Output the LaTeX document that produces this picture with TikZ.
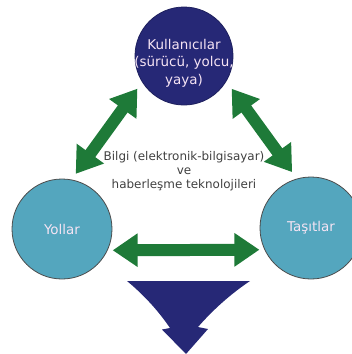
\documentclass[tikz,border=0pt]{standalone}
\usepackage{fontspec}
\setmainfont{DejaVu Sans}
\usetikzlibrary{arrows.meta}
\definecolor{usernavy}{RGB}{38,40,118}
\definecolor{nodeteal}{RGB}{84,166,190}
\definecolor{linkgreen}{RGB}{30,122,56}
\definecolor{circtext}{RGB}{246,228,244}
\tikzset{
  circ/.style={circle, inner sep=0pt, line width=0.8bp},
  link/.style={line width=12bp, linkgreen,
    {Triangle[length=25bp,width=32bp]}-{Triangle[length=25bp,width=32bp]}},
}
\begin{document}
\begin{tikzpicture}[x=1bp, y=-1bp]
      \useasboundingbox (0,0) rectangle (352,354);
      \node (users) [circ, fill=usernavy, draw=usernavy!80!black, minimum size=98bp,
        label={[text=circtext, align=center, font=\fontsize{13.5}{17.5}\selectfont, yshift=-7bp]center:{Kullanıcılar\\(sürücü, yolcu,\\yaya)}}] at (184,56) {};
      \node (roads) [circ, fill=nodeteal, draw=black!70, minimum size=100bp,
        text=circtext, font=\fontsize{13.5}{16}\selectfont] at (62,229) {Yollar};
      \node (cars) [circ, fill=nodeteal, draw=black!70, minimum size=102bp,
        text=circtext, font=\fontsize{13.5}{16}\selectfont] at (311,228) {Taşıtlar};
      \node (info) [align=center, text=black!75, font=\fontsize{12}{14}\selectfont] at (184,171)
        {Bilgi (elektronik-bilgisayar)\\ve\\haberleşme teknolojileri};
      \draw [link, shorten <=8bp, shorten >=7bp] (users.212) -- (roads.79);
      \draw [link, shorten <=9bp, shorten >=8bp] (users.329) -- (cars.106);
      \draw [link, shorten <=5bp, shorten >=5bp] (roads.-25) -- (cars.205);
      \fill [usernavy] (127,281) .. controls (143.5,294.7) and (158,310.3) .. (170,328)
        -- (162,329.5) -- (186,354) -- (208,329) -- (198,327)
        .. controls (213.3,309.5) and (230.7,294) .. (250,281) -- cycle;
    \end{tikzpicture}
\end{document}
